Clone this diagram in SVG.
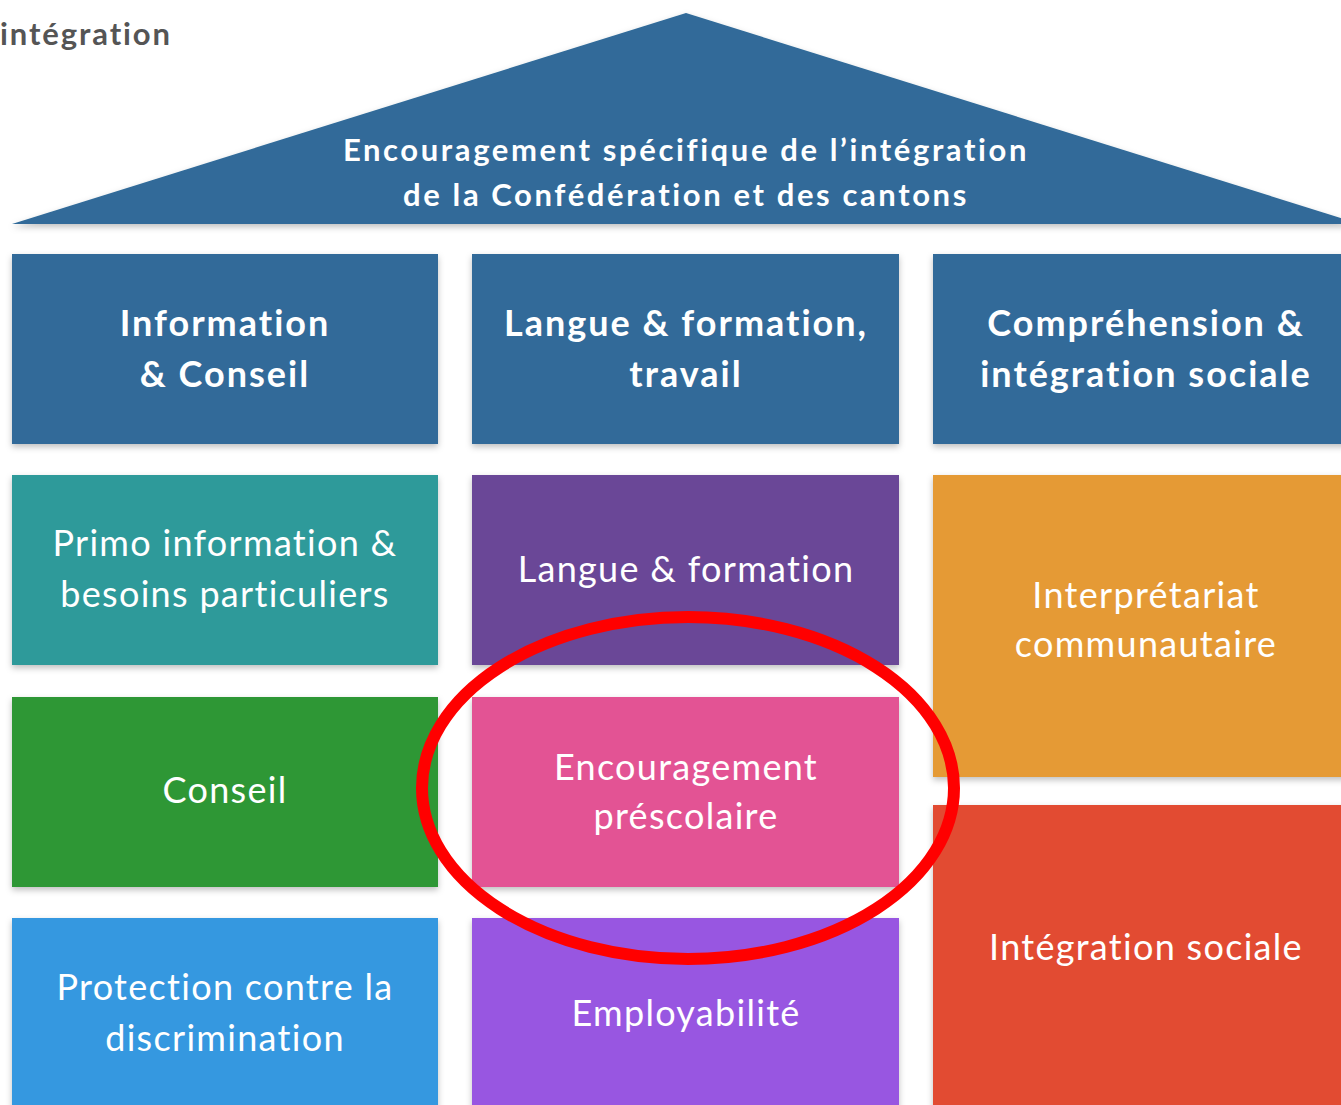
<svg xmlns="http://www.w3.org/2000/svg" width="1341" height="1105" viewBox="0 0 1341 1105">
<defs>
<filter id="sh" x="-5%" y="-5%" width="110%" height="115%">
<feDropShadow dx="0" dy="3" stdDeviation="3" flood-color="#000" flood-opacity="0.25"/>
</filter>
<style>
.hd{font-family:Lato,"Liberation Sans",sans-serif;font-weight:bold;font-size:36px;fill:#fff;text-anchor:middle;letter-spacing:2px}
.bd{font-family:Lato,"Liberation Sans",sans-serif;font-size:36px;fill:#fff;text-anchor:middle;letter-spacing:1.3px}
.rf{font-family:Lato,"Liberation Sans",sans-serif;font-weight:bold;font-size:31px;fill:#fff;text-anchor:middle;letter-spacing:2.6px}
</style>
</defs>
<rect width="1341" height="1105" fill="#fff"/>
<text x="0" y="45" font-family="Lato,'Liberation Sans',sans-serif" font-weight="bold" font-size="31" letter-spacing="1.9" fill="#555">intégration</text>
<g id="roof">
<polygon points="12,224 686,13 1360,224" fill="#306b99" filter="url(#sh)"/>
<text class="rf" x="686" y="161">Encouragement spécifique de l’intégration</text>
<text class="rf" x="686" y="206">de la Confédération et des cantons</text>
</g>
<g id="h1"><rect x="12" y="254" width="426" height="190" fill="#306b99" filter="url(#sh)"/>
<text class="hd" x="225" y="336">Information</text><text class="hd" x="225" y="387">&amp; Conseil</text></g>
<g id="h2"><rect x="472" y="254" width="427" height="190" fill="#306b99" filter="url(#sh)"/>
<text class="hd" x="686" y="336">Langue &amp; formation,</text><text class="hd" x="686" y="387">travail</text></g>
<g id="h3"><rect x="933" y="254" width="427" height="190" fill="#306b99" filter="url(#sh)"/>
<text class="hd" x="1146" y="336">Compréhension &amp;</text><text class="hd" x="1146" y="387">intégration sociale</text></g>
<g id="primo"><rect x="12" y="475" width="426" height="190" fill="#2e9a9a" filter="url(#sh)"/>
<text class="bd" x="225" y="556">Primo information &amp;</text><text class="bd" x="225" y="607">besoins particuliers</text></g>
<g id="langue"><rect x="472" y="475" width="427" height="190" fill="#6b4697" filter="url(#sh)"/>
<text class="bd" x="686" y="582">Langue &amp; formation</text></g>
<g id="interp"><rect x="933" y="475" width="427" height="302" fill="#e59a35" filter="url(#sh)"/>
<text class="bd" x="1146" y="608">Interprétariat</text><text class="bd" x="1146" y="657">communautaire</text></g>
<g id="conseil"><rect x="12" y="697" width="426" height="190" fill="#2e9734" filter="url(#sh)"/>
<text class="bd" x="225" y="803">Conseil</text></g>
<g id="presco"><rect x="472" y="697" width="427" height="190" fill="#e35294" filter="url(#sh)"/>
<text class="bd" x="686" y="780">Encouragement</text><text class="bd" x="686" y="829">préscolaire</text></g>
<g id="sociale"><rect x="933" y="805" width="427" height="320" fill="#e24b33" filter="url(#sh)"/>
<text class="bd" x="1146" y="960">Intégration sociale</text></g>
<g id="protection"><rect x="12" y="918" width="426" height="200" fill="#3598e0" filter="url(#sh)"/>
<text class="bd" x="225" y="1000">Protection contre la</text><text class="bd" x="225" y="1051">discrimination</text></g>
<g id="emploi"><rect x="472" y="918" width="427" height="200" fill="#9857e1" filter="url(#sh)"/>
<text class="bd" x="686" y="1026">Employabilité</text></g>
<g id="connectors"></g>
<ellipse cx="688" cy="788" rx="266" ry="171" fill="none" stroke="#ff0000" stroke-width="12"/>
</svg>
